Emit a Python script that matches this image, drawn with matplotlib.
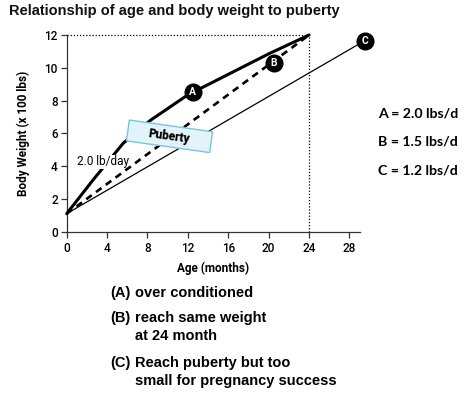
import matplotlib.pyplot as plt
import matplotlib.transforms as mtransforms
from matplotlib.patches import Rectangle

# --- data ---
age_a = [0, 2.6, 5.6, 8.3, 12, 16, 20, 24]
wt_a = [1.1, 3.15, 5.4, 6.8, 8.35, 9.6, 10.85, 12]
age_b = [0, 24]
wt_b = [1.1, 12]
age_c = [0, 29.5]
wt_c = [1.1, 11.65]

marker_labels = ['A', 'B', 'C']
marker_x = [12.5, 20.5, 29.5]
marker_y = [8.55, 10.3, 11.65]

x_ticks = [0, 4, 8, 12, 16, 20, 24, 28]
y_ticks = [0, 2, 4, 6, 8, 10, 12]

rate_lines = ['A = 2.0 lbs/d', 'B = 1.5 lbs/d', 'C = 1.2 lbs/d']
notes = [('(A)', ['over conditioned']),
         ('(B)', ['reach same weight', 'at 24 month']),
         ('(C)', ['Reach puberty but too', 'small for pregnancy success'])]

GILL = ['Roboto', 'DejaVu Sans']
CALIBRI = ['Lato', 'DejaVu Sans']
ARIAL = ['Liberation Sans', 'DejaVu Sans']

fig = plt.figure(figsize=(4.75, 3.95), dpi=100)
ax = fig.add_axes([0.1404, 0.4134, 0.6166, 0.498])

# target lines (dotted)
ax.plot([0, 24], [12, 12], color='black', lw=0.9, ls=(0, (1, 1.5)), clip_on=False)
ax.plot([24, 24], [0, 12], color='black', lw=0.9, ls=(0, (1, 1.5)), clip_on=False)

# growth curves
ax.plot(age_a, wt_a, color='black', lw=2.2, solid_capstyle='round', clip_on=False, zorder=3)
ax.plot(age_b, wt_b, color='black', lw=1.9, ls=(0, (2.6, 2.0)), clip_on=False, zorder=4.5)
ax.plot(age_c, wt_c, color='black', lw=0.9, clip_on=False, zorder=4.5)

for lab, mx, my in zip(marker_labels, marker_x, marker_y):
    ax.plot(mx, my, 'o', ms=12, color='black', clip_on=False, zorder=5)
    ax.text(mx, my, lab, color='white', fontsize=7.5, fontweight='bold', family=GILL,
            ha='center', va='center', zorder=6, clip_on=False)

# rate label sits on top of curve A
ax.text(1.0, 4.27, '2.0 lb/day', fontsize=8.5, family=GILL, ha='left', va='center', zorder=4,
        bbox=dict(boxstyle='square,pad=0.05', fc='white', ec='none'))

# puberty box (pixel sized, rotated)
trans = mtransforms.Affine2D().rotate_deg(-8) + mtransforms.ScaledTranslation(10.18, 5.82, ax.transData)
ax.add_patch(Rectangle((-42, -10.5), 84, 21, transform=trans, facecolor='#e2f3f9',
                       edgecolor='#7cc4dc', lw=1.0, zorder=7, clip_on=False))
ax.text(10.18, 5.82, 'Puberty', fontsize=8.5, fontweight='heavy', family=GILL, rotation=-8,
        rotation_mode='anchor', ha='center', va='center', zorder=8)

# axes styling
ax.set_xlim(0, 29)
ax.set_ylim(0, 12)
ax.set_xticks(x_ticks)
ax.set_yticks(y_ticks)
for s in ['top', 'right']:
    ax.spines[s].set_visible(False)
for s in ['left', 'bottom']:
    ax.spines[s].set_linewidth(0.9)
    ax.spines[s].set_color('#333333')
ax.tick_params(axis='both', length=4.5, width=0.9, color='#333333', labelsize=8.5)
ax.tick_params(axis='x', pad=3)
ax.tick_params(axis='y', pad=2)
for t in ax.get_xticklabels() + ax.get_yticklabels():
    t.set_family(GILL)
    t.set_fontweight('medium')

ax.set_xlabel('Age (months)', fontsize=8.5, fontweight='bold', family=GILL, labelpad=5)
ax.set_ylabel('Body Weight (x 100 lbs)', fontsize=8.5, fontweight='bold', family=GILL, labelpad=10)

# title
fig.text(9 / 475, 1 - 11 / 395, 'Relationship of age and body weight to puberty',
         fontsize=10.5, fontweight='bold', family=ARIAL, color='#111111', ha='left', va='center')

# rate legend on the right
for i, line in enumerate(rate_lines):
    fig.text(378 / 475, 1 - (113 + 28.5 * i) / 395, line, fontsize=10.2, family=CALIBRI,
             fontweight='bold', ha='left', va='center')

# notes under the chart
rows = [293, 318, 363]
for (tag, lines), yrow in zip(notes, rows):
    fig.text(110 / 475, 1 - yrow / 395, tag, fontsize=10.5, fontweight='bold', family=ARIAL,
             ha='left', va='center')
    for j, line in enumerate(lines):
        fig.text(135 / 475, 1 - (yrow + 18 * j) / 395, line, fontsize=10.5, fontweight='bold',
                 family=ARIAL, ha='left', va='center')

fig.savefig('out.png', dpi=100)
